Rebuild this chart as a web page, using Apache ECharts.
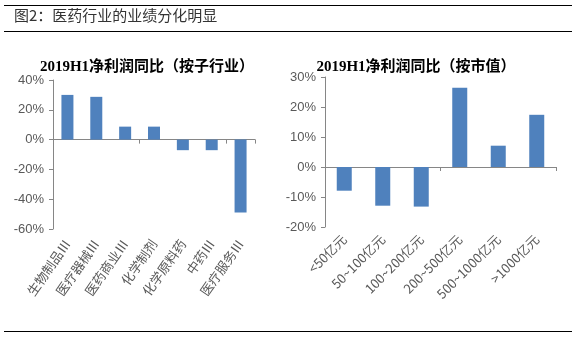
<!DOCTYPE html>
<html><head><meta charset="utf-8">
<script src="https://cdn.jsdelivr.net/npm/echarts@6/dist/echarts.min.js"></script>
<style>html,body{margin:0;padding:0;background:#fff}#c{width:580px;height:337px}</style>
</head><body><div id="c"></div>
<script>
const pageTitle = '图2：医药行业的业绩分化明显';
const leftTitle = '2019H1净利润同比（按子行业）';
const rightTitle = '2019H1净利润同比（按市值）';
const industryCats = ['生物制品Ⅲ','医疗器械Ⅲ','医药商业Ⅲ','化学制剂','化学原料药','中药Ⅲ','医疗服务Ⅲ'];
const industryVals = [30.0, 28.7, 8.7, 8.7, -7.1, -7.1, -49.0];
const capCats = ['<50亿元','50~100亿元','100~200亿元','200~500亿元','500~1000亿元','>1000亿元'];
const capVals = [-7.9, -12.9, -13.2, 26.4, 7.1, 17.4];

const barColor = '#4F81BD';
const axisColor = '#868686';
const labelColor = '#595959';
const cjk = '"Noto Sans CJK SC", sans-serif';
const latin = '"Liberation Sans", Arial, sans-serif';

function xAxes(gridIndex, cats, rotate, margin, fs) {
  return [
    { type:'category', gridIndex, data:cats, position:'bottom',
      axisLine:{ onZero:true, lineStyle:{color:axisColor, width:1} },
      axisTick:{ show:true, length:4, lineStyle:{color:axisColor} },
      axisLabel:{ show:false } },
    { type:'category', gridIndex, data:cats, position:'bottom',
      axisLine:{ show:false, onZero:false }, axisTick:{show:false},
      axisLabel:{ show:true, rotate, interval:0, margin, color:labelColor,
        fontSize:fs, fontFamily:cjk } }
  ];
}
function yAxis(gridIndex, min, max, interval) {
  return { type:'value', gridIndex, min, max, interval,
    axisLine:{ show:true, lineStyle:{color:axisColor} },
    axisTick:{ show:true, length:4, lineStyle:{color:axisColor} },
    splitLine:{ show:false },
    axisLabel:{ formatter:'{value}%', color:labelColor, fontSize:13, fontFamily:latin, margin:9 } };
}

const chart = echarts.init(document.getElementById('c'), null, {renderer:'canvas'});
chart.setOption({
  animation:false,
  title:[
    { text:leftTitle, left:142, top:55, textAlign:'center',
      textStyle:{ fontSize:15, fontWeight:'bold', color:'#000', fontFamily:'"Liberation Serif", "Noto Sans CJK SC", serif' } },
    { text:rightTitle, left:411, top:55, textAlign:'center',
      textStyle:{ fontSize:15, fontWeight:'bold', color:'#000', fontFamily:'"Liberation Serif", "Noto Sans CJK SC", serif' } }
  ],
  grid:[
    { left:53, right:325, top:80, bottom:108, containLabel:false },
    { left:325, right:24, top:77, bottom:110, containLabel:false }
  ],
  xAxis:[].concat(xAxes(0, industryCats, 55, 12, 13), xAxes(1, capCats, 45, 10, 13)),
  yAxis:[ yAxis(0, -60, 40, 20), yAxis(1, -20, 30, 10) ],
  series:[
    { type:'bar', xAxisIndex:0, yAxisIndex:0, data:industryVals, barWidth:12, itemStyle:{color:barColor} },
    { type:'bar', xAxisIndex:2, yAxisIndex:1, data:capVals, barWidth:15, itemStyle:{color:barColor} }
  ],
  graphic:[
    { type:'line', shape:{x1:4,y1:5.5,x2:572,y2:5.5}, style:{stroke:'#000', lineWidth:1} },
    { type:'line', shape:{x1:4,y1:31.5,x2:572,y2:31.5}, style:{stroke:'#000', lineWidth:1} },
    { type:'line', shape:{x1:4,y1:331.5,x2:572,y2:331.5}, style:{stroke:'#000', lineWidth:1} },
    { type:'text', left:14, top:8, style:{ text:pageTitle, fontSize:15, fill:'#333', fontFamily:cjk } }
  ]
});
</script></body></html>
